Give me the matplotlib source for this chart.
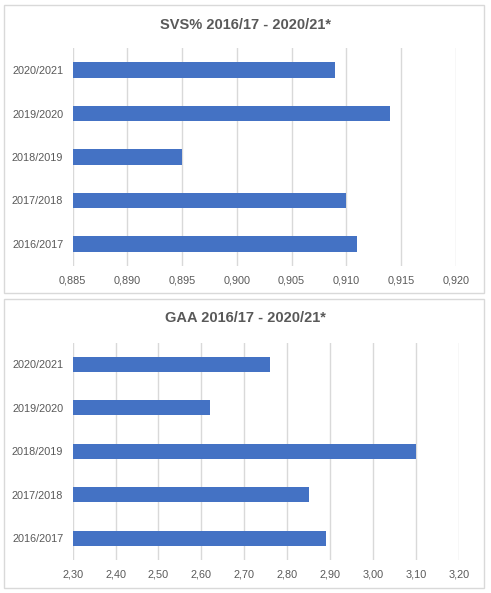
import matplotlib.pyplot as plt
from matplotlib.patches import Rectangle
from matplotlib.ticker import FuncFormatter

# data (bottom to top)
seasons = ["2016/2017", "2017/2018", "2018/2019", "2019/2020", "2020/2021"]
svs = [0.911, 0.910, 0.895, 0.914, 0.909]
gaa = [2.89, 2.85, 3.10, 2.62, 2.76]

svs_ticks = [0.885, 0.890, 0.895, 0.900, 0.905, 0.910, 0.915, 0.920]
gaa_ticks = [2.30, 2.40, 2.50, 2.60, 2.70, 2.80, 2.90, 3.00, 3.10, 3.20]

plt.rcParams["font.family"] = ["Liberation Sans", "DejaVu Sans"]
bar_color = "#4472C4"
text_color = "#595959"
grid_color = "#d9d9d9"

W, H = 491, 593
fig = plt.figure(figsize=(W / 100, H / 100), dpi=100)

# panel borders
for (x0, y0, x1, y1) in [(4, 5, 484, 293), (4, 299, 484, 588)]:
    fig.patches.append(Rectangle((x0 / W, 1 - y1 / H), (x1 - x0) / W, (y1 - y0) / H,
                                 transform=fig.transFigure, fill=False,
                                 edgecolor=grid_color, linewidth=1.0))


def draw(ax, values, ticks, decimals, title, title_y):
    # bars start at the axis minimum
    start = ticks[0]
    ax.barh(seasons, [v - start for v in values], left=start, height=0.345,
            color=bar_color, zorder=3)
    ax.set_xlim(ticks[0], ticks[-1])
    ax.set_ylim(-0.5, len(seasons) - 0.5)
    ax.set_xticks(ticks)
    ax.xaxis.set_major_formatter(FuncFormatter(
        lambda v, p: f"{v:.{decimals}f}".replace(".", ",")))
    ax.grid(axis="x", color=grid_color, linewidth=1.0, zorder=0)
    for s in ax.spines.values():
        s.set_visible(False)
    ax.tick_params(length=0, labelsize=7.8, colors=text_color)
    ax.tick_params(axis="x", pad=7)
    ax.tick_params(axis="y", pad=6.8)
    fig.text(0.5, 1 - title_y / H, title, ha="center", va="center",
             fontsize=10.5, fontweight="bold", color=text_color)


ax1 = fig.add_axes([72.7 / W, 1 - 265.75 / H, (455.7 - 72.7) / W, 217.5 / H])
draw(ax1, svs, svs_ticks, 3, "SVS% 2016/17 - 2020/21*", 25)

ax2 = fig.add_axes([72.7 / W, 1 - 560 / H, (458.7 - 72.7) / W, 217.5 / H])
draw(ax2, gaa, gaa_ticks, 2, "GAA 2016/17 - 2020/21*", 317.7)

fig.savefig("out.png", dpi=100)
